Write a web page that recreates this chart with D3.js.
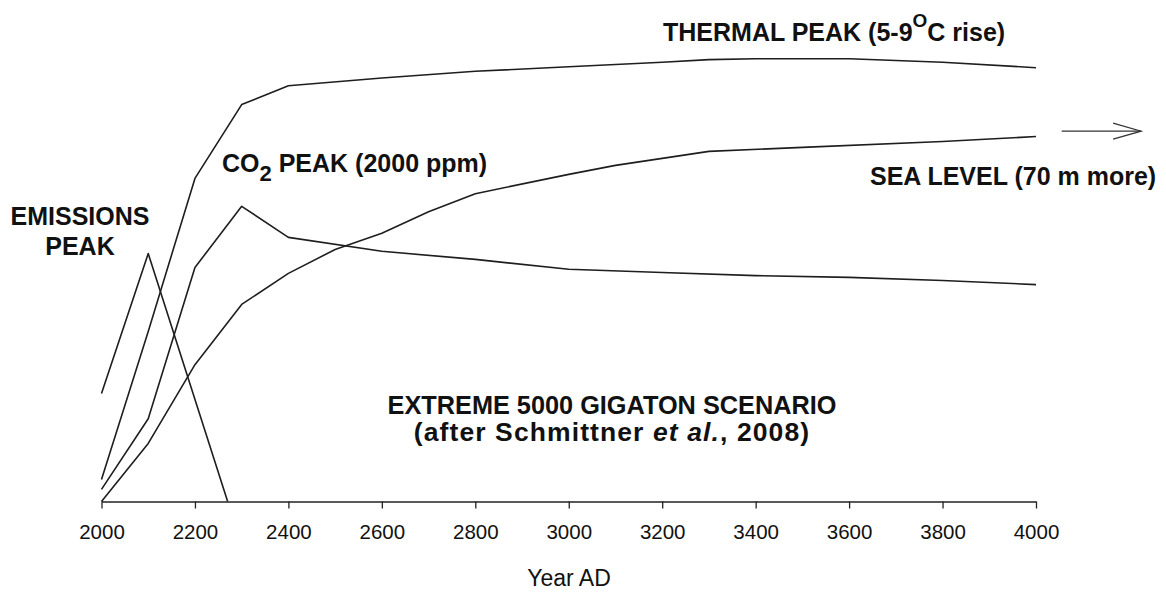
<!DOCTYPE html>
<html>
<head>
<meta charset="utf-8">
<script src="https://cdn.jsdelivr.net/npm/d3@7"></script>
<style>
  html, body { margin: 0; padding: 0; background: #fff; }
  svg { display: block; }
  text { font-family: "Liberation Sans", Arial, sans-serif; fill: #111; }
</style>
</head>
<body>
<svg id="chart" width="1166" height="592"></svg>
<script>
// Relative response of each quantity (0 = pre-industrial baseline, 100 = plot top)
const years = [2000, 2100, 2200, 2300, 2400, 2600, 2800, 3000, 3200, 3300, 3400, 3600, 3800, 4000];

const emissionsYears = [2000, 2100, 2270];
const emissions = [24.0, 55.1, 0.0];

const thermal = [4.9, 37.8, 71.8, 88.2, 92.4, 94.1, 95.6, 96.6, 97.6, 98.2, 98.4, 98.4, 97.6, 96.4];

const co2Years = [2000, 2100, 2200, 2300, 2400, 2600, 2800, 3000, 3200, 3400, 3600, 3800, 4000];
const co2 = [2.7, 18.4, 52.0, 65.6, 58.7, 55.6, 53.8, 51.6, 50.9, 50.2, 49.8, 49.1, 48.2];

const seaYears = [2000, 2100, 2200, 2300, 2400, 2500, 2600, 2700, 2800, 3000, 3100, 3300, 3500, 3800, 4000];
const seaLevel = [0.0, 12.9, 30.4, 43.8, 50.7, 56.0, 59.6, 64.4, 68.4, 72.7, 74.7, 77.8, 78.7, 80.0, 81.1];

// Continuation arrow for sea level beyond the plotted period
const seaArrowYears = [4055, 4225];
const seaArrowLevel = 82.3;

const tickYears = [2000, 2200, 2400, 2600, 2800, 3000, 3200, 3400, 3600, 3800, 4000];

const svg = d3.select("#chart");

const x = d3.scaleLinear().domain([2000, 4000]).range([101.5, 1036]);
const y = d3.scaleLinear().domain([0, 100]).range([501.5, 51.5]);

const line = d3.line().x(d => x(d[0])).y(d => y(d[1]));

const seriesList = [
  d3.zip(emissionsYears, emissions),
  d3.zip(years, thermal),
  d3.zip(co2Years, co2),
  d3.zip(seaYears, seaLevel)
];

svg.append("g")
  .selectAll("path")
  .data(seriesList)
  .join("path")
  .attr("d", line)
  .attr("fill", "none")
  .attr("stroke", "#1e1e1e")
  .attr("stroke-width", 1.6)
  .attr("stroke-linejoin", "round");

// Open arrow after the sea-level curve
const ax0 = x(seaArrowYears[0]), ax1 = x(seaArrowYears[1]), ay = y(seaArrowLevel);
const arrow = svg.append("g")
  .attr("fill", "none")
  .attr("stroke", "#333")
  .attr("stroke-width", 1.2);
arrow.append("line").attr("x1", ax0).attr("y1", ay).attr("x2", ax1).attr("y2", ay);
arrow.append("polyline")
  .attr("points", [[ax1 - 28, ay - 8], [ax1, ay], [ax1 - 28, ay + 8]].map(p => p.join(",")).join(" "));

// X axis
const xAxis = d3.axisBottom(x)
  .tickValues(tickYears)
  .tickFormat(d3.format("d"))
  .tickSize(7)
  .tickPadding(16)
  .tickSizeOuter(0);

const gx = svg.append("g")
  .attr("transform", `translate(0,${y(0)})`)
  .call(xAxis);
gx.select(".domain").attr("stroke", "#222").attr("stroke-width", 1.3);
gx.selectAll(".tick line").attr("stroke", "#222").attr("stroke-width", 1.3);
gx.selectAll(".tick text")
  .attr("font-family", "'Liberation Sans', Arial, sans-serif")
  .attr("font-size", 20.5)
  .attr("fill", "#111");

svg.append("text")
  .attr("x", 569).attr("y", 586)
  .attr("text-anchor", "middle")
  .attr("font-size", 23)
  .text("Year AD");

// Annotations
const bold = sel => sel.attr("font-weight", "bold").attr("font-size", 25);

const thermalLabel = svg.append("text").attr("x", 663).attr("y", 41).call(bold);
thermalLabel.append("tspan").text("THERMAL PEAK (5-9");
thermalLabel.append("tspan").attr("font-size", 19).attr("dy", -14).text("O");
thermalLabel.append("tspan").attr("dy", 14).text("C rise)");

const co2Label = svg.append("text").attr("x", 222).attr("y", 172).call(bold);
co2Label.append("tspan").text("CO");
co2Label.append("tspan").attr("font-size", 22).attr("dy", 9).text("2");
co2Label.append("tspan").attr("dy", -9).text(" PEAK (2000 ppm)");

svg.append("text").attr("x", 870).attr("y", 185).call(bold).text("SEA LEVEL (70 m more)");

svg.append("text").attr("x", 80).attr("y", 225).attr("text-anchor", "middle").call(bold).text("EMISSIONS");
svg.append("text").attr("x", 80).attr("y", 255).attr("text-anchor", "middle").call(bold).text("PEAK");

svg.append("text").attr("x", 612).attr("y", 414).attr("text-anchor", "middle").call(bold)
  .attr("font-size", 25.3)
  .text("EXTREME 5000 GIGATON SCENARIO");

const cite = svg.append("text").attr("x", 612).attr("y", 441).attr("text-anchor", "middle").call(bold)
  .attr("font-size", 26.5)
  .attr("letter-spacing", 1.1);
cite.append("tspan").text("(after Schmittner ");
cite.append("tspan").attr("font-style", "italic").text("et al.");
cite.append("tspan").text(", 2008)");
</script>
</body>
</html>
